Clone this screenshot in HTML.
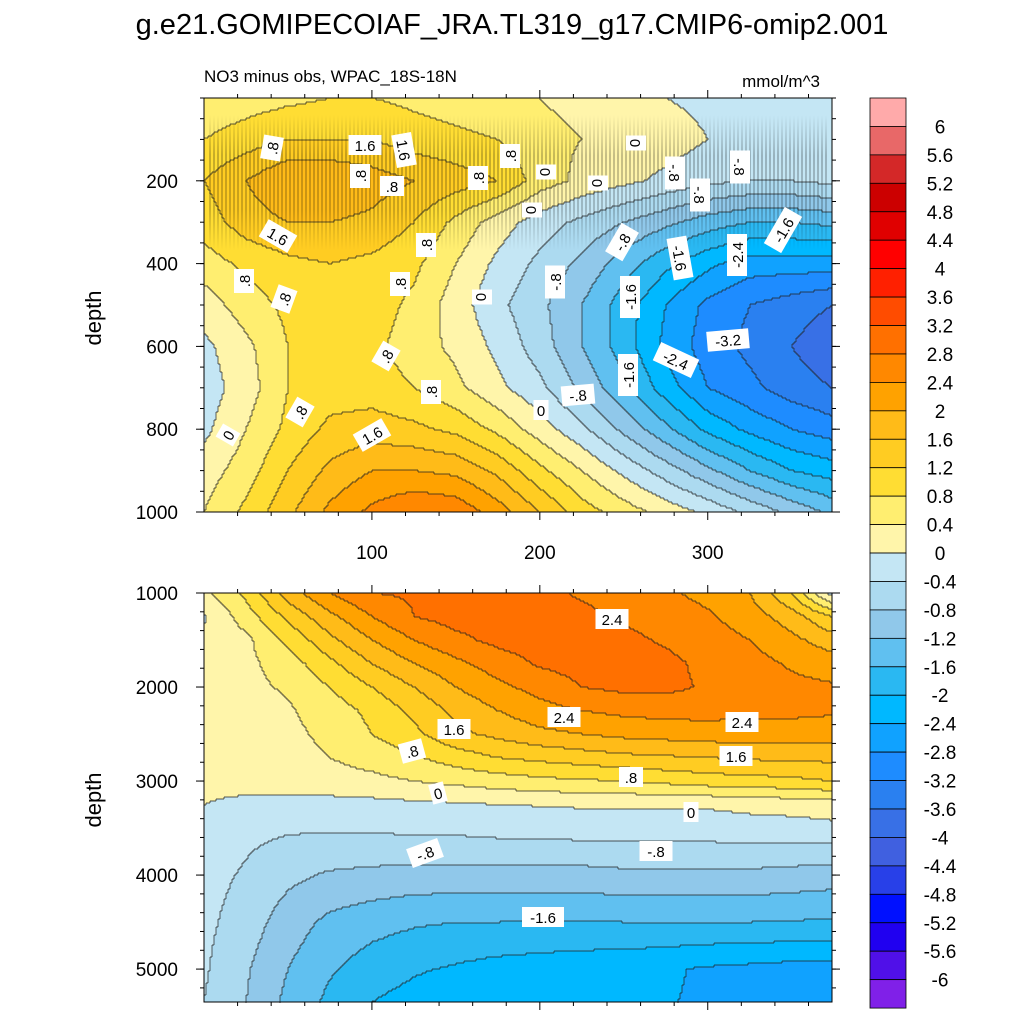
<!DOCTYPE html>
<html><head><meta charset="utf-8"><style>
body{margin:0;background:#fff;}
svg{display:block;font-family:"Liberation Sans",sans-serif;}
</style></head><body>
<svg id="chart" width="1024" height="1024" viewBox="0 0 1024 1024">
<defs>
<linearGradient id="stripeGrad" gradientUnits="userSpaceOnUse" x1="0" y1="115" x2="0" y2="250">
<stop offset="0" stop-color="#000" stop-opacity="0"/>
<stop offset="0.3" stop-color="#000" stop-opacity="0.45"/>
<stop offset="0.7" stop-color="#000" stop-opacity="0.4"/>
<stop offset="1" stop-color="#000" stop-opacity="0"/>
</linearGradient>
</defs>
<text x="512" y="34" text-anchor="middle" font-size="29">g.e21.GOMIPECOIAF_JRA.TL319_g17.CMIP6-omip2.001</text>
<text x="204" y="82" font-size="17">NO3 minus obs, WPAC_18S-18N</text>
<text x="820" y="87" font-size="17" text-anchor="end">mmol/m^3</text>
<g id="topPanel"></g>
<g id="botPanel"></g>
<g id="cbar"></g>
<text transform="translate(101,318) rotate(-90)" text-anchor="middle" font-size="22">depth</text>
<text transform="translate(101,800) rotate(-90)" text-anchor="middle" font-size="22">depth</text>
</svg>
<script>
const xCols=[0,25,50,75,100,125,150,175,200,225,250,275,300,325,350,374];
const topDepths=[0,100,200,300,400,500,600,700,800,900,1000];
const topVals=[
[0.5,0.6,0.7,0.8,0.8,0.7,0.6,0.5,0.4,0.3,0.2,0.0,-0.1,-0.2,-0.2,-0.2],
[0.8,1.0,1.2,1.2,1.2,1.0,0.9,0.8,0.5,0.4,0.3,0.2,0.0,-0.2,-0.2,-0.1],
[1.2,1.6,2.0,2.0,1.8,1.6,1.4,1.2,0.6,0.3,0.1,-0.1,-0.3,-0.4,-0.4,-0.3],
[1.0,1.4,1.6,1.6,1.5,1.2,0.7,0.2,-0.2,-0.5,-0.8,-1.1,-1.4,-1.6,-1.6,-1.5],
[0.6,0.9,1.1,1.2,1.1,0.9,0.4,-0.1,-0.5,-0.9,-1.4,-1.9,-2.3,-2.6,-2.6,-2.6],
[0.2,0.6,0.9,1.0,1.0,0.7,0.2,-0.3,-0.7,-1.2,-1.8,-2.4,-2.9,-3.2,-3.4,-3.6],
[-0.1,0.3,0.8,1.0,0.9,0.6,0.3,-0.1,-0.6,-1.2,-1.8,-2.5,-3.0,-3.3,-3.6,-3.9],
[-0.2,0.2,0.8,1.0,1.0,0.8,0.5,0.1,-0.3,-0.9,-1.5,-2.2,-2.8,-3.1,-3.4,-3.6],
[-0.1,0.4,0.9,1.3,1.4,1.3,1.1,0.7,0.2,-0.3,-0.9,-1.5,-2.1,-2.5,-2.8,-3.0],
[0.2,0.6,1.2,1.7,2.0,2.0,1.9,1.5,0.9,0.4,-0.1,-0.6,-1.1,-1.6,-2.0,-2.2],
[0.4,0.9,1.5,2.1,2.5,2.8,2.7,2.2,1.6,1.0,0.6,0.25,-0.1,-0.5,-0.9,-1.3]];
const botDepths=[1000,1250,1500,1750,2000,2250,2500,2750,3000,3250,3500,4000,4500,5000,5350];
const botVals=[
[0.3,0.9,1.8,2.4,2.8,2.85,2.9,2.9,2.9,2.75,2.6,2.45,2.3,2.0,1.2,-0.2],
[-0.05,0.6,1.3,1.9,2.4,2.8,2.95,3.0,2.95,2.9,2.75,2.6,2.45,2.2,1.8,1.2],
[0.1,0.3,0.9,1.5,2.0,2.4,2.7,2.9,3.0,2.95,2.9,2.75,2.6,2.4,2.1,1.8],
[0.2,0.3,0.6,1.1,1.6,2.0,2.3,2.6,2.85,2.95,2.95,2.9,2.7,2.55,2.35,2.2],
[0.2,0.3,0.45,0.8,1.2,1.6,2.0,2.3,2.55,2.8,2.9,2.9,2.75,2.6,2.5,2.45],
[0.2,0.25,0.35,0.6,0.9,1.3,1.7,2.0,2.25,2.4,2.5,2.55,2.55,2.5,2.5,2.45],
[0.2,0.2,0.3,0.5,0.8,1.1,1.5,1.7,1.9,2.0,2.1,2.15,2.2,2.2,2.2,2.2],
[0.15,0.2,0.25,0.4,0.55,0.75,1.0,1.2,1.3,1.4,1.5,1.55,1.6,1.65,1.7,1.7],
[0.1,0.15,0.2,0.25,0.3,0.4,0.5,0.6,0.7,0.75,0.8,0.9,1.0,1.05,1.1,1.2],
[0.0,-0.1,-0.15,-0.15,-0.12,-0.08,-0.05,0.0,0.02,0.04,0.05,0.05,0.05,0.1,0.15,0.2],
[-0.2,-0.3,-0.35,-0.35,-0.35,-0.3,-0.3,-0.25,-0.25,-0.2,-0.2,-0.2,-0.2,-0.15,-0.15,-0.1],
[-0.25,-0.45,-0.7,-0.85,-0.9,-0.95,-0.95,-0.95,-0.95,-0.95,-0.9,-0.9,-0.9,-0.9,-0.95,-1.0],
[-0.3,-0.6,-1.0,-1.3,-1.45,-1.55,-1.6,-1.6,-1.62,-1.62,-1.6,-1.6,-1.6,-1.6,-1.62,-1.65],
[-0.35,-0.75,-1.2,-1.55,-1.8,-1.95,-2.05,-2.15,-2.2,-2.25,-2.3,-2.35,-2.45,-2.5,-2.55,-2.55],
[-0.4,-0.8,-1.3,-1.7,-2.0,-2.15,-2.3,-2.38,-2.35,-2.35,-2.35,-2.38,-2.45,-2.55,-2.6,-2.6]];
const cbarLabels=["6","5.6","5.2","4.8","4.4","4","3.6","3.2","2.8","2.4","2","1.6","1.2","0.8","0.4","0","-0.4","-0.8","-1.2","-1.6","-2","-2.4","-2.8","-3.2","-3.6","-4","-4.4","-4.8","-5.2","-5.6","-6"];
const topXTicks=[100,200,300];
const topYTicks=[200,400,600,800,1000];
const botYTicks=[1000,2000,3000,4000,5000];
const colorsHiLo=["#ffaaaa","#e86868","#d42828","#cc0000","#e00000","#ff0000","#ff2000","#ff4c00","#ff7000","#ff8800","#ffa200","#ffbb18","#ffcc22","#ffdd33","#ffee70","#fff5aa",
"#c4e6f4","#acdaf0","#90c8ea","#60c0f0","#2ab8f2","#00b8ff","#10a2ff","#1e8cff","#2a80f0","#3870e6","#4060e0","#2840e8","#0010ff","#2000f0","#5010e8","#8020e8"];
const NS="http://www.w3.org/2000/svg";
function mk(tag,attrs,parent){const e=document.createElementNS(NS,tag);for(const k in attrs)e.setAttribute(k,attrs[k]);parent.appendChild(e);return e;}
function levelOf(v){let i=Math.floor((v+6)/0.4)+1;return Math.max(0,Math.min(31,i));}
function colorOfLevel(i){return colorsHiLo[31-i];}
function findIdx(arr,v){for(let i=0;i<arr.length-1;i++){if(v<=arr[i+1])return i;}return arr.length-2;}
function interp(depths,vals,x,d){
  const i=findIdx(xCols,x),j=findIdx(depths,d);
  const tx=Math.max(0,Math.min(1,(x-xCols[i])/(xCols[i+1]-xCols[i])));
  const ty=Math.max(0,Math.min(1,(d-depths[j])/(depths[j+1]-depths[j])));
  const a=vals[j][i],b=vals[j][i+1],c=vals[j+1][i],e=vals[j+1][i+1];
  return a*(1-tx)*(1-ty)+b*tx*(1-ty)+c*(1-tx)*ty+e*tx*ty;
}
const X0=204,X1=832,XMAX=374;
function xs(x){return X0+(X1-X0)*x/XMAX;}
function panel(g,depths,vals,y0,y1,dmin,dmax,name){
  const ys=d=>y0+(y1-y0)*(d-dmin)/(dmax-dmin);
  const cs=2,nx=Math.ceil((X1-X0)/cs),ny=Math.ceil((y1-y0)/cs);
  const lev=[];
  for(let r=0;r<ny;r++){const row=[];const d=dmin+(r+0.5)*cs/(y1-y0)*(dmax-dmin);
    for(let c=0;c<nx;c++){const x=(c+0.5)*cs/(X1-X0)*XMAX;row.push(levelOf(interp(depths,vals,x,d)));}
    lev.push(row);}
  const cells=mk('g',{},g);
  
  
  for(let r=0;r<ny;r++){let c=0;while(c<nx){let s=c;const L=lev[r][c];while(c<nx&&lev[r][c]===L)c++;
    const w=Math.min((c-s)*cs,X1-X0-s*cs),h=Math.min(cs,y1-y0-r*cs);
    const rc=mk('rect',{x:X0+s*cs,y:y0+r*cs,width:w+0.4,height:h+0.4,fill:colorOfLevel(L)},cells);
    
    }}
  let dstr="";
  for(let r=0;r<ny;r++)for(let c=0;c<nx;c++){
    if(c<nx-1&&lev[r][c]!==lev[r][c+1]){const x=X0+(c+1)*cs;dstr+="M"+x+" "+(y0+r*cs)+"v"+cs;}
    if(r<ny-1&&lev[r][c]!==lev[r+1][c]){const y=y0+(r+1)*cs;dstr+="M"+(X0+c*cs)+" "+y+"h"+cs;}
  }
  const p=mk('path',{d:dstr,fill:"none",stroke:"#222","stroke-width":0.7},g);
  
  
  return ys;
}
function frame(g,y0,y1,name){
  const fr=mk('rect',{x:X0,y:y0,width:X1-X0,height:y1-y0,fill:"none",stroke:"#000","stroke-width":1},g);
  
  
}
const topG=document.getElementById('topPanel'),botG=document.getElementById('botPanel');
const ysT=panel(topG,topDepths,topVals,98,512,0,1000,'upper');
const ysB=panel(botG,botDepths,botVals,593,1002,1000,5350,'lower');
// decorative high-frequency striation texture in upper band
const stripes=mk('g',{},topG);


let sd="";
for(let px=210;px<830;px+=4){sd+="M"+px+" 115V250";}
mk('path',{d:sd,stroke:"url(#stripeGrad)","stroke-width":1,fill:"none"},stripes);
frame(topG,98,512,'upper');frame(botG,593,1002,'lower');
function ticksY(g,ticks,ys,minorStep,dmin,dmax){
  for(const t of ticks){const y=ys(t);
    mk('line',{x1:X0-8,y1:y,x2:X0,y2:y,stroke:"#000"},g);mk('line',{x1:X1,y1:y,x2:X1+8,y2:y,stroke:"#000"},g);
    const tx=mk('text',{x:178,y:y+7,"text-anchor":"end","font-size":19},g);tx.textContent=t;
    
    }
  for(let d=Math.ceil(dmin/minorStep)*minorStep;d<=dmax;d+=minorStep){const y=ys(d);
    mk('line',{x1:X0-4,y1:y,x2:X0,y2:y,stroke:"#000"},g);mk('line',{x1:X1,y1:y,x2:X1+4,y2:y,stroke:"#000"},g);}
}
ticksY(topG,topYTicks,ysT,50,0,1000);
ticksY(botG,botYTicks,ysB,200,1000,5350);
function ticksX(g,y0,y1,labels){
  for(let x=20;x<=XMAX;x+=20){const big=x%100===0;const px=xs(x);const L=big?8:4;
    mk('line',{x1:px,y1:y1,x2:px,y2:y1+L,stroke:"#000"},g);mk('line',{x1:px,y1:y0-L,x2:px,y2:y0,stroke:"#000"},g);}
  if(labels)for(const t of topXTicks){const tx=mk('text',{x:xs(t),y:y1+47,"text-anchor":"middle","font-size":19},g);tx.textContent=t;
    
    }
}
ticksX(topG,98,512,true);ticksX(botG,593,1002,false);
const lab=[[topG,272,148,".8",-80],[topG,365,145,"1.6",0],[topG,404,150,"1.6",80],[topG,360,176,".8",-90],[topG,392,186,".8",0],[topG,510,156,".8",-90],[topG,546,172,"0",90],[topG,598,183,"0",90],[topG,532,210,"0",90],[topG,478,178,".8",-90],[topG,636,143,"0",90],[topG,622,242,"-.8",-60],[topG,675,173,"-.8",90],[topG,700,195,"-.8",90],[topG,740,167,"-.8",90],[topG,278,236,"1.6",30],[topG,426,245,".8",-90],[topG,244,281,".8",-90],[topG,284,299,".8",-70],[topG,400,284,".8",-90],[topG,555,282,"-.8",-90],[topG,482,297,"0",90],[topG,630,297,"-1.6",-90],[topG,680,258,"-1.6",80],[topG,737,255,"-2.4",-90],[topG,783,230,"-1.6",-60],[topG,728,340,"-3.2",-5],[topG,676,360,"-2.4",25],[topG,628,375,"-1.6",-90],[topG,386,356,".8",-60],[topG,431,392,".8",-90],[topG,578,395,"-.8",-5],[topG,541,410,"0",0],[topG,300,412,".8",-60],[topG,228,435,"0",-60],[topG,372,435,"1.6",-30],
[botG,612,619,"2.4",0],[botG,564,717,"2.4",0],[botG,742,722,"2.4",0],[botG,454,729,"1.6",0],[botG,736,756,"1.6",0],[botG,412,751,".8",-15],[botG,631,777,".8",0],[botG,438,793,"0",-15],[botG,691,812,"0",0],[botG,425,853,"-.8",-20],[botG,656,851,"-.8",0],[botG,543,917,"-1.6",0]];
for(const [g,x,y,t,rot] of lab){const gg=mk('g',{transform:`translate(${x},${y}) rotate(${rot})`},g);
  
  
  const w=t.length*9+6;mk('rect',{x:-w/2,y:-10,width:w,height:20,fill:"#fff"},gg);
  const tx=mk('text',{x:0,y:6,"text-anchor":"middle","font-size":15},gg);tx.textContent=t;}
const cb=document.getElementById('cbar');const CB0=98,CBH=28.44,CBX=870,CBW=36;
for(let k=0;k<32;k++){const r=mk('rect',{x:CBX,y:CB0+k*CBH,width:CBW,height:CBH,fill:colorsHiLo[k],stroke:"#000","stroke-width":0.8},cb);
  
  }
cbarLabels.forEach((t,k)=>{const tx=mk('text',{x:940,y:CB0+(k+1)*CBH+7,"text-anchor":"middle","font-size":19},cb);tx.textContent=t;
  
  });
</script>
</body></html>
